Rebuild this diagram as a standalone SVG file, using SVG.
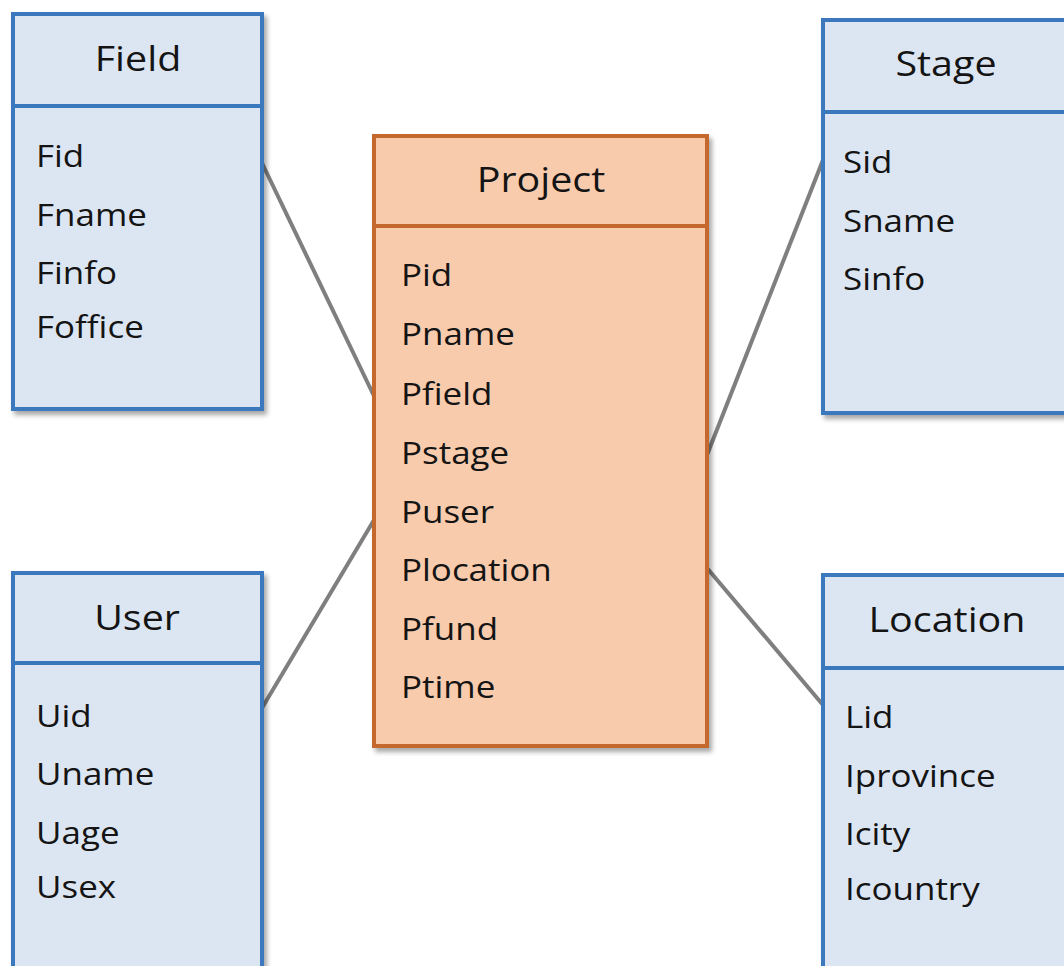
<svg xmlns="http://www.w3.org/2000/svg" width="1064" height="966" viewBox="0 0 1064 966">
  <style>
    .ent { fill: #dce6f2; stroke: #3a78bd; stroke-width: 4; }
    .ent-line { stroke: #3a78bd; stroke-width: 4; }
    .main { fill: #f8cbad; stroke: #c5682e; stroke-width: 4; }
    .main-line { stroke: #c5682e; stroke-width: 4; }
    .title { font-family: "Open Sans", "Liberation Sans", sans-serif; font-size: 35.5px; fill: #141414; text-anchor: middle; }
    .attr { font-family: "Open Sans", "Liberation Sans", sans-serif; font-size: 31.5px; fill: #141414; }
    .conn { stroke: #7f7f7f; stroke-width: 4; fill: none; }
  </style>
  <defs>
    <filter id="shadow" x="-10%" y="-10%" width="130%" height="130%">
      <feGaussianBlur in="SourceAlpha" stdDeviation="2.5"/>
      <feOffset dx="3" dy="4" result="b"/>
      <feComponentTransfer><feFuncA type="linear" slope="0.35"/></feComponentTransfer>
      <feMerge><feMergeNode/><feMergeNode in="SourceGraphic"/></feMerge>
    </filter>
  </defs>
  <rect width="1064" height="966" fill="#ffffff"/>

  <g id="connectors">
    <line class="conn" x1="262" y1="163" x2="374" y2="396"/>
    <line class="conn" x1="707" y1="455" x2="823" y2="160"/>
    <line class="conn" x1="262" y1="708" x2="374" y2="520"/>
    <line class="conn" x1="707" y1="568" x2="823" y2="705"/>
  </g>

  <!-- entity text is set a little wide: each label is scaled 1.11 horizontally about its anchor -->
  <g id="field">
    <rect class="ent" x="13" y="14" width="249" height="395" filter="url(#shadow)"/>
    <line class="ent-line" x1="13" y1="106" x2="262" y2="106"/>
    <text class="title" transform="translate(138 71) scale(1.11 1)">Field</text>
    <text class="attr" transform="translate(36 167) scale(1.11 1)">Fid</text>
    <text class="attr" transform="translate(36 226) scale(1.11 1)">Fname</text>
    <text class="attr" transform="translate(36 284) scale(1.11 1)">Finfo</text>
    <text class="attr" transform="translate(36 338) scale(1.11 1)">Foffice</text>
  </g>

  <g id="project">
    <rect class="main" x="374" y="136" width="333" height="610" filter="url(#shadow)"/>
    <line class="main-line" x1="374" y1="226" x2="707" y2="226"/>
    <text class="title" transform="translate(541 192) scale(1.11 1)">Project</text>
    <text class="attr" transform="translate(401 286) scale(1.11 1)">Pid</text>
    <text class="attr" transform="translate(401 345) scale(1.11 1)">Pname</text>
    <text class="attr" transform="translate(401 405) scale(1.11 1)">Pfield</text>
    <text class="attr" transform="translate(401 464) scale(1.11 1)">Pstage</text>
    <text class="attr" transform="translate(401 523) scale(1.11 1)">Puser</text>
    <text class="attr" transform="translate(401 581) scale(1.11 1)">Plocation</text>
    <text class="attr" transform="translate(401 640) scale(1.11 1)">Pfund</text>
    <text class="attr" transform="translate(401 698) scale(1.11 1)">Ptime</text>
  </g>

  <g id="stage">
    <rect class="ent" x="823" y="20" width="260" height="393" filter="url(#shadow)"/>
    <line class="ent-line" x1="823" y1="112" x2="1083" y2="112"/>
    <text class="title" transform="translate(946 76) scale(1.11 1)">Stage</text>
    <text class="attr" transform="translate(843 173) scale(1.11 1)">Sid</text>
    <text class="attr" transform="translate(843 232) scale(1.11 1)">Sname</text>
    <text class="attr" transform="translate(843 290) scale(1.11 1)">Sinfo</text>
  </g>

  <g id="user">
    <rect class="ent" x="13" y="573" width="249" height="420" filter="url(#shadow)"/>
    <line class="ent-line" x1="13" y1="663" x2="262" y2="663"/>
    <text class="title" transform="translate(137 630) scale(1.11 1)">User</text>
    <text class="attr" transform="translate(36 727) scale(1.11 1)">Uid</text>
    <text class="attr" transform="translate(36 785) scale(1.11 1)">Uname</text>
    <text class="attr" transform="translate(36 844) scale(1.11 1)">Uage</text>
    <text class="attr" transform="translate(36 898) scale(1.11 1)">Usex</text>
  </g>

  <g id="location">
    <rect class="ent" x="823" y="575" width="260" height="420" filter="url(#shadow)"/>
    <line class="ent-line" x1="823" y1="668" x2="1083" y2="668"/>
    <text class="title" transform="translate(947 632) scale(1.11 1)">Location</text>
    <text class="attr" transform="translate(845 728) scale(1.11 1)">Lid</text>
    <text class="attr" transform="translate(845 787) scale(1.11 1)">Iprovince</text>
    <text class="attr" transform="translate(845 845) scale(1.11 1)">Icity</text>
    <text class="attr" transform="translate(845 900) scale(1.11 1)">Icountry</text>
  </g>
</svg>
